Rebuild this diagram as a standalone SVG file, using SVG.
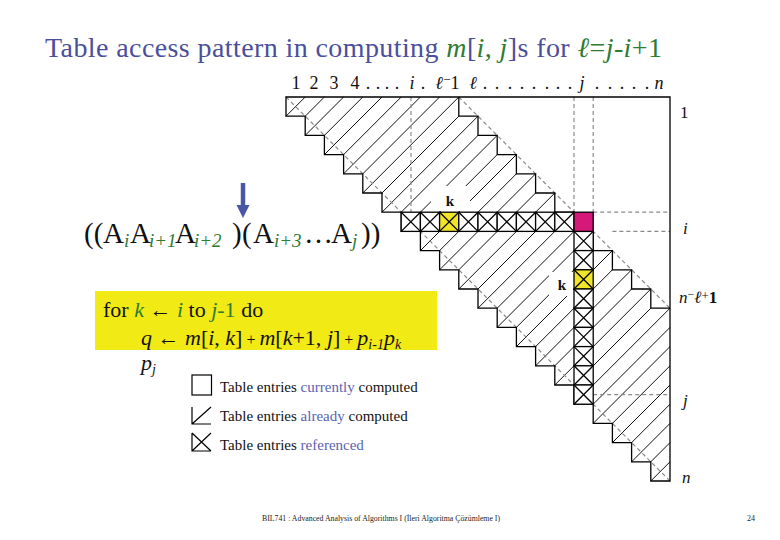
<svg xmlns="http://www.w3.org/2000/svg" xmlns:xlink="http://www.w3.org/1999/xlink" width="780" height="540" viewBox="0 0 780 540">
<style>
text{font-family:"Liberation Serif","Times New Roman",serif;}
.t{font-size:28px;fill:#4b4f9b;}
.g{fill:#2e7b32;}
.it{font-style:italic;}
.hdr{font-size:18px;fill:#111;text-anchor:middle;}
.lab{font-size:17px;fill:#111;}
.k{font-size:15px;font-weight:bold;fill:#111;}
.f{font-size:29px;fill:#111;}
.sub{font-size:19px;fill:#2e7b32;font-style:italic;}
.code{font-size:22px;fill:#111;}
.leg{font-size:15px;fill:#111;}
.lb{fill:#5b63b0;}
.dash{fill:none;stroke:#8a8a8a;stroke-width:1.2;stroke-dasharray:4 3;}
.ol{fill:none;stroke:#000;stroke-width:1.3;}
.hatch{fill:none;stroke:#111;stroke-width:1;}
</style>
<defs>
<g id="xcell"><rect width="19.2" height="19.2"/><path d="M0 0L19.2 19.2M19.2 0L0 19.2" fill="none"/></g>
</defs>
<rect width="780" height="540" fill="#fff"/>

<g id="title">
<text class="t" x="45" y="57" textLength="617" lengthAdjust="spacing">Table access pattern in computing <tspan class="g it">m</tspan>[<tspan class="g it">i</tspan><tspan class="g">, </tspan><tspan class="g it">j</tspan>]s for <tspan class="g it">ℓ</tspan><tspan class="g">=</tspan><tspan class="g it">j</tspan><tspan class="g">-</tspan><tspan class="g it">i</tspan><tspan class="g">+1</tspan></text>
</g>

<g id="header">
<text class="hdr" y="89"><tspan x="296">1</tspan><tspan x="314">2</tspan><tspan x="334">3</tspan><tspan x="355">4</tspan><tspan x="368">.</tspan><tspan x="378">.</tspan><tspan x="387">.</tspan><tspan x="397">.</tspan><tspan x="412" class="it">i</tspan><tspan x="423">.</tspan><tspan x="439" class="it">ℓ</tspan><tspan x="447" dy="-5" font-size="13">−</tspan><tspan x="455" dy="5">1</tspan><tspan x="473" class="it">ℓ</tspan><tspan x="485">.</tspan><tspan x="497">.</tspan><tspan x="510">.</tspan><tspan x="522">.</tspan><tspan x="534">.</tspan><tspan x="547">.</tspan><tspan x="558">.</tspan><tspan x="570">.</tspan><tspan x="582" class="it">j</tspan><tspan x="597">.</tspan><tspan x="610">.</tspan><tspan x="622">.</tspan><tspan x="634">.</tspan><tspan x="647">.</tspan><tspan x="659" class="it">n</tspan></text>
</g>

<g id="matrix">
<path id="hatches" class="hatch" d="M286 116.2L305.2 97M305.2 116.2L324.4 97M305.2 135.4L343.6 97M324.4 135.4L362.8 97M324.4 154.6L382 97M343.6 154.6L401.2 97M343.6 173.8L420.4 97M362.8 173.8L439.6 97M362.8 193L458.8 97M382 193L458.8 116.2M382 212.2L478 116.2M401.2 212.2L478 135.4M401.2 231.4L497.2 135.4M420.4 231.4L497.2 154.6M420.4 250.6L516.4 154.6M439.6 250.6L516.4 173.8M439.6 269.8L535.6 173.8M458.8 269.8L535.6 193M458.8 289L554.8 193M478 289L554.8 212.2M478 308.2L574 212.2M497.2 308.2L574 231.4M497.2 327.4L593.2 231.4M516.4 327.4L593.2 250.6M516.4 346.6L612.4 250.6M535.6 346.6L612.4 269.8M535.6 365.8L631.6 269.8M554.8 365.8L631.6 289M554.8 385L650.8 289M574 385L650.8 308.2M574 404.2L670 308.2M593.2 404.2L670 327.4M593.2 423.4L670 346.6M612.4 423.4L670 365.8M612.4 442.6L670 385M631.6 442.6L670 404.2M631.6 461.8L670 423.4M650.8 461.8L670 442.6M650.8 481L670 461.8"/>
<g id="dashes">
<path class="dash" d="M286 97L670 481M458.8 97L670 308.2"/>
<path class="dash" d="M411 97V212.2M574 97V212.2M593.2 97V212.2M593.2 212.2H670M612.4 231.4H670M593.2 394.6H670"/>
</g>
<path id="outline" class="ol" d="M286 97V116.2H305.2V135.4H324.4V154.6H343.6V173.8H362.8V193H382V212.2H401.2V231.4H420.4V250.6H439.6V269.8H458.8V289H478V308.2H497.2V327.4H516.4V346.6H535.6V365.8H554.8V385H574V404.2H593.2V423.4H612.4V442.6H631.6V461.8H650.8V481H670V97Z"/>
<path id="band" class="ol" d="M458.8 97V116.2H478V135.4H497.2V154.6H516.4V173.8H535.6V193H554.8V212.2H574V231.4H593.2V250.6H612.4V269.8H631.6V289H650.8V308.2H670"/>
<rect x="431" y="186" width="39" height="25" fill="#fff"/>
<rect x="549" y="272" width="24" height="24" fill="#fff"/>
<g id="row-i" stroke="#000" stroke-width="1.3" fill="#fff">
<use xlink:href="#xcell" x="401.2" y="212.2"/>
<use xlink:href="#xcell" x="420.4" y="212.2"/>
<use xlink:href="#xcell" x="439.6" y="212.2" fill="#f1e52a"/>
<use xlink:href="#xcell" x="458.8" y="212.2"/>
<use xlink:href="#xcell" x="478" y="212.2"/>
<use xlink:href="#xcell" x="497.2" y="212.2"/>
<use xlink:href="#xcell" x="516.4" y="212.2"/>
<use xlink:href="#xcell" x="535.6" y="212.2"/>
<use xlink:href="#xcell" x="554.8" y="212.2"/>
</g>
<g id="col-j" stroke="#000" stroke-width="1.3" fill="#fff">
<use xlink:href="#xcell" x="574" y="231.4"/>
<use xlink:href="#xcell" x="574" y="250.6"/>
<use xlink:href="#xcell" x="574" y="269.8" fill="#f1e52a"/>
<use xlink:href="#xcell" x="574" y="289"/>
<use xlink:href="#xcell" x="574" y="308.2"/>
<use xlink:href="#xcell" x="574" y="327.4"/>
<use xlink:href="#xcell" x="574" y="346.6"/>
<use xlink:href="#xcell" x="574" y="365.8"/>
<use xlink:href="#xcell" x="574" y="385"/>
</g>
<rect id="current" x="574" y="212.2" width="19.2" height="19.2" fill="#d4197a" stroke="#000" stroke-width="1.3"/>
<text class="k" x="450" y="206" text-anchor="middle">k</text>
<text class="k" x="562" y="290" text-anchor="middle">k</text>
</g>

<g id="row-labels">
<text class="lab" x="680" y="118">1</text>
<text class="lab it" x="683" y="234">i</text>
<text class="lab" x="679" y="303"><tspan class="it">n</tspan><tspan dy="-5" font-size="12">−</tspan><tspan dy="5" class="it">ℓ</tspan><tspan dy="-3" font-size="13">+</tspan><tspan dy="3" font-weight="bold">1</tspan></text>
<text class="lab it" x="683" y="406">j</text>
<text class="lab it" x="682" y="483">n</text>
</g>

<g id="arrow">
<path d="M243 183V207" stroke="#4a56a6" stroke-width="4.5" fill="none"/>
<path d="M236.5 205H249.5L243 218Z" fill="#4a56a6"/>
</g>

<g id="formula">
<text class="f" y="243"><tspan x="84">((</tspan><tspan x="103">A</tspan><tspan class="sub" x="124" dy="4">i</tspan><tspan x="130" dy="-4">A</tspan><tspan class="sub" x="149" dy="4">i+1</tspan><tspan x="175" dy="-4">A</tspan><tspan class="sub" x="194" dy="4">i+2</tspan><tspan x="232" dy="-4">)</tspan><tspan x="242">(</tspan><tspan x="253">A</tspan><tspan class="sub" x="274" dy="4">i+3</tspan><tspan x="304" dy="-4">…</tspan><tspan x="331">A</tspan><tspan class="sub" x="352" dy="4">j</tspan><tspan x="361" dy="-4">))</tspan></text>
</g>

<g id="code">
<rect x="95" y="291" width="342" height="59" fill="#f2ea14"/>
<text class="code" x="103" y="317">for <tspan class="g it">k</tspan> ← <tspan class="g it">i</tspan> to <tspan class="g it">j</tspan><tspan class="g">-1</tspan> do</text>
<text class="code g" x="141" y="345"><tspan class="it">q</tspan><tspan fill="#111"> ← </tspan><tspan class="it">m</tspan>[<tspan class="it">i</tspan>, <tspan class="it">k</tspan>]<tspan fill="#111" font-size="16"> + </tspan><tspan class="it">m</tspan>[<tspan class="it">k</tspan>+1, <tspan class="it">j</tspan>]<tspan fill="#111" font-size="16"> + </tspan><tspan class="it">p</tspan><tspan class="it" font-size="14" dy="4">i-1</tspan><tspan class="it" dy="-4">p</tspan><tspan class="it" font-size="14" dy="4">k</tspan></text>
<text class="code g" x="141" y="370"><tspan class="it">p</tspan><tspan class="it" font-size="14" dy="4">j</tspan></text>
</g>

<g id="legend">
<rect x="192" y="375" width="19.5" height="20" fill="none" stroke="#000" stroke-width="1.2"/>
<path d="M192 407V424H211M192 424L211 407" fill="none" stroke="#000" stroke-width="1.2"/>
<path d="M192 433V451H211M192 433L211 451M192 451L211 433" fill="none" stroke="#000" stroke-width="1.2"/>
<text class="leg" x="220" y="392">Table entries <tspan class="lb">currently</tspan> computed</text>
<text class="leg" x="220" y="421">Table entries <tspan class="lb">already</tspan> computed</text>
<text class="leg" x="220" y="450">Table entries <tspan class="lb">referenced</tspan></text>
</g>

<g id="footer">
<text x="262" y="521" font-size="8" fill="#222" textLength="238" lengthAdjust="spacingAndGlyphs">BIL741 : Advanced Analysis of Algorithms I (İleri Algoritma Çözümleme I)</text>
<text x="747" y="521" font-size="8" fill="#222">24</text>
</g>
</svg>
